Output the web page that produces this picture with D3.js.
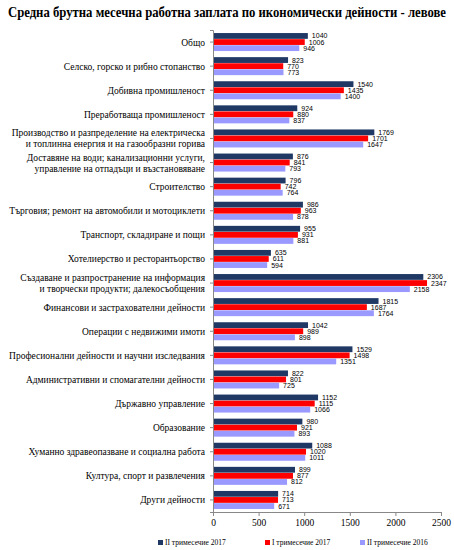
<!DOCTYPE html><html><head><meta charset="utf-8"><script src="https://d3js.org/d3.v7.min.js"></script>
<style>body{margin:0;background:#fff}</style></head><body><svg id="c" width="454" height="550"></svg>
<script>
const categories=["Общо","Селско, горско и рибно стопанство","Добивна промишленост","Преработваща промишленост","Производство и разпределение  на електрическа|и топлинна енергия и на газообразни горива","Доставяне на води; канализационни услуги,|управление на отпадъци и възстановяване","Строителство","Търговия; ремонт на автомобили и мотоциклети","Транспорт, складиране и пощи","Хотелиерство и ресторантьорство","Създаване и разпространение на информация|и творчески продукти; далекосъобщения","Финансови и застрахователни дейности","Операции с недвижими имоти","Професионални дейности и научни изследвания","Административни и спомагателни дейности","Държавно управление","Образование","Хуманно здравеопазване и социална работа","Култура, спорт и развлечения","Други дейности"];
const q2_2017=[1040,823,1540,924,1769,876,796,986,955,635,2306,1815,1042,1529,822,1152,980,1088,899,714];
const q1_2017=[1006,770,1435,880,1701,841,742,963,931,611,2347,1687,989,1498,801,1115,921,1020,877,713];
const q2_2016=[946,773,1400,837,1647,793,764,878,881,594,2158,1764,898,1351,725,1066,893,1011,812,671];
const seriesNames=["II тримесечие 2017","I тримесечие 2017","II тримесечие 2016"];
const xTicks=[0,500,1000,1500,2000,2500];
const colors=["#1f3864","#ff0000","#9999ff"];
const svg=d3.select("#c");
svg.append("text").attr("x",8).attr("y",17).attr("font-family","Liberation Serif").attr("font-weight","bold").attr("font-size",14).attr("textLength",438).attr("lengthAdjust","spacingAndGlyphs").text("Средна брутна месечна работна заплата по икономически дейности - левове");
const x=d3.scaleLinear().domain([0,2500]).range([213,441]);
const y=d3.scaleBand().domain(d3.range(categories.length)).range([30,512]);
const bw=y.bandwidth();
const inner=d3.scaleBand().domain([0,1,2]).range([bw/2-9,bw/2+9]).paddingInner(0.05);
const data=[q2_2017,q1_2017,q2_2016];
const g=svg.append("g");
categories.forEach((c,i)=>{
  const lines=c.split("|");
  const cy=y(i)+bw/2;
  const t=g.append("text").attr("font-family","Liberation Serif").attr("font-size",9.5).attr("text-anchor","end");
  lines.forEach((l,k)=>t.append("tspan").attr("x",205).attr("y",cy+3.5+(k-(lines.length-1)/2)*11).text(l));
  data.forEach((s,j)=>{
    const yy=y(i)+inner(j);
    g.append("rect").attr("x",x(0)).attr("y",yy).attr("width",x(s[i])-x(0)).attr("height",inner.bandwidth()).attr("fill",colors[j]);
    g.append("text").attr("x",x(s[i])+4).attr("y",yy+inner.bandwidth()/2+2.5).attr("font-family","Liberation Sans").attr("font-size",7).text(s[i]);
  });
});
const ax=svg.append("g").attr("transform","translate(0,512)").call(d3.axisBottom(x).tickValues(xTicks).tickSize(4).tickFormat(d3.format("d")));
ax.selectAll("text").attr("font-family","Liberation Serif").attr("font-size",9.5).attr("fill","#000");
ax.selectAll("line,path").attr("stroke","#888");
svg.append("g").attr("transform","translate(213,0)").call(d3.axisLeft(y).tickSize(3).tickFormat("")).selectAll("line,path").attr("stroke","#888");
const leg=svg.append("g");
const lx=[158,265,360];
seriesNames.forEach((n,j)=>{
  leg.append("rect").attr("x",lx[j]).attr("y",540).attr("width",5).attr("height",5).attr("fill",colors[j]);
  leg.append("text").attr("x",lx[j]+7).attr("y",545).attr("font-family","Liberation Serif").attr("font-size",7.5).text(n);
});
</script></body></html>
